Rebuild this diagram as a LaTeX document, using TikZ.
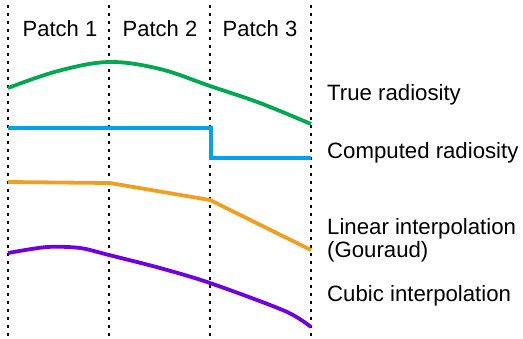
\documentclass[tikz,border=0pt]{standalone}
\usepackage{fontspec}
\setmainfont{Liberation Sans}
\definecolor{truegreen}{RGB}{0,168,80}
\definecolor{compblue}{RGB}{0,162,236}
\definecolor{linorange}{RGB}{240,160,32}
\definecolor{cubpurple}{RGB}{112,0,226}
\tikzset{
  divider/.style={line width=2pt, dash pattern=on 2.5pt off 5.5pt, black},
  curve/.style={line width=3.8pt, line join=round},
  patchlabel/.style={anchor=base, inner sep=0pt, font=\fontsize{22}{25}\selectfont},
  legend/.style={anchor=base west, inner sep=0pt, font=\fontsize{22.2}{25}\selectfont, align=left}
}
\begin{document}
\begin{tikzpicture}[x=1pt, y=-1pt]
  \useasboundingbox (0,0) rectangle (523,338);

  % patch boundaries
  \foreach \xx/\nm in {8/a, 109/b, 210/c, 311/d} {
    \coordinate (top\nm) at (\xx,5);
    \coordinate (bot\nm) at (\xx,336);
    \draw[divider] (top\nm) -- (bot\nm);
  }

  % patch names
  \node[patchlabel] (p1) at (60,36) {Patch 1};
  \node[patchlabel] (p2) at (160,36) {Patch 2};
  \node[patchlabel] (p3) at (260,36) {Patch 3};

  % true radiosity
  \draw[curve, truegreen] plot[smooth, tension=0.6] coordinates
    {(8,88) (58,71) (109,62) (160,69) (210,86) (260,103) (311,124)};

  % computed (constant per patch) radiosity
  \draw[curve, compblue, line join=miter] (8,128) -- (211,128) -- (211,158) -- (311,158);

  % linear interpolation
  \draw[curve, linorange] (8,182) -- (110,183) -- (210,200) -- (311,250);

  % cubic interpolation
  \draw[curve, cubpurple] plot[smooth, tension=0.5] coordinates
    {(8,253) (47,247) (80,248) (109,255) (160,268) (210,283) (285,311) (311,327)};

  % legend
  \node[legend] (ltrue) at (327,100) {True radiosity};
  \node[legend] (lcomp) at (327,158) {Computed radiosity};
  \node[legend] (llin)  at (327,234) {Linear interpolation};
  \node[legend] (lgou)  at (327,257) {(Gouraud)};
  \node[legend] (lcub)  at (327,301) {Cubic interpolation};
\end{tikzpicture}
\end{document}
